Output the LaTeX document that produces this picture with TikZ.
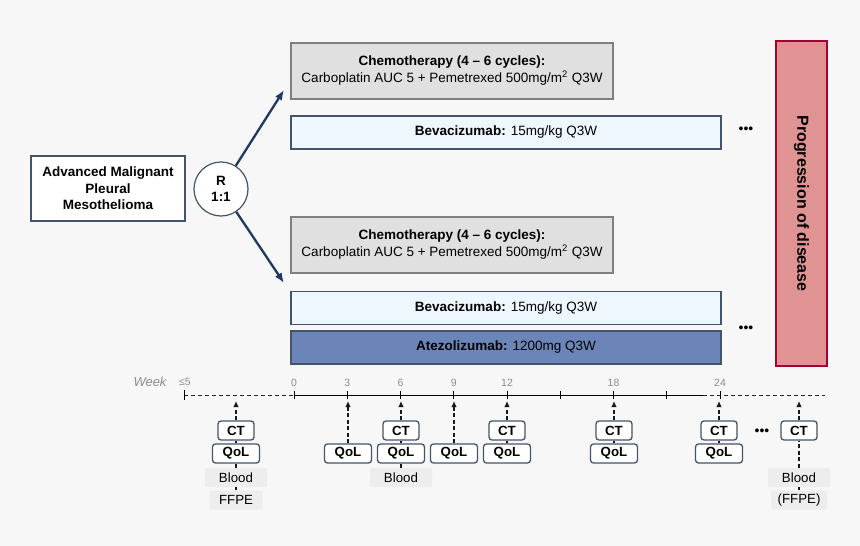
\documentclass[tikz,border=0pt]{standalone}
\usepackage{fontspec}
\usetikzlibrary{arrows.meta}
\setmainfont{Liberation Sans}
\definecolor{bgfill}{HTML}{F7F7F7}
\definecolor{navyline}{HTML}{44546A}
\definecolor{arrowblue}{HTML}{1F3864}
\definecolor{chemofill}{HTML}{E0E0E0}
\definecolor{chemoline}{HTML}{7F7F7F}
\definecolor{bevfill}{HTML}{EEF7FD}
\definecolor{atezofill}{HTML}{6B85B8}
\definecolor{progfill}{HTML}{E09393}
\definecolor{progline}{HTML}{A50034}
\definecolor{samplefill}{HTML}{EDEDED}
\definecolor{weekgrey}{HTML}{8C8C8C}

\begin{document}
\begin{tikzpicture}[x=1pt,y=-1pt,
  armtext/.style={font=\fontsize{13.5}{17}\selectfont,align=center,inner sep=0pt},
  chemobox/.style={armtext,draw=chemoline,fill=chemofill,line width=1.2pt,minimum width=322,minimum height=56},
  bevbox/.style={armtext,draw=navyline,fill=bevfill,line width=1.2pt,minimum width=430,minimum height=33},
  atezobox/.style={bevbox,fill=atezofill},
  popbox/.style={armtext,draw=navyline,fill=white,line width=1.2pt,minimum width=154,minimum height=65,font=\bfseries\fontsize{13.5}{16.5}\selectfont},
  randnode/.style={circle,draw=navyline,fill=white,line width=1.2pt,minimum size=54,align=center,inner sep=0pt,font=\bfseries\fontsize{13.5}{16}\selectfont},
  progbox/.style={draw=progline,fill=progfill,line width=2.2pt,minimum width=51,minimum height=325},
  assess/.style={draw=navyline,fill=white,rounded corners=3pt,line width=1.3pt,minimum height=19,inner sep=0pt,font=\bfseries\fontsize{13.3}{15}\selectfont},
  sample/.style={fill=samplefill,rounded corners=2pt,minimum height=19,inner sep=0pt,font=\fontsize{13.3}{15}\selectfont},
  weeklabel/.style={text=weekgrey,inner sep=0pt,font=\fontsize{10.5}{12}\selectfont},
  dotsnode/.style={inner sep=0pt,font=\fontsize{14}{14}\selectfont},
  probe/.style={-{Latex[length=6pt,width=5.5pt]},dash pattern=on 4pt off 2.5pt,line width=1.4pt,black!90},
  link/.style={dash pattern=on 4pt off 2.5pt,line width=1.4pt,black!90},
  randarrow/.style={-{Latex[length=10pt,width=8pt]},line width=2.3pt,arrowblue}]
\fill[bgfill] (0,0) rectangle (860,546);
\useasboundingbox (0,0) rectangle (860,546);

% population and randomisation
\node[popbox] (pop) at (108,188.5) {Advanced Malignant\\Pleural\\Mesothelioma};
\node[randnode] (R) at (221,189) {R\\1:1};
\coordinate (armA) at (284,90);
\coordinate (armB) at (284,283);
\draw[randarrow] (R) -- (armA);
\draw[randarrow] (R) -- (armB);

% arm A
\node[chemobox] (chemoA) at (452,71) {\textbf{Chemotherapy (4 – 6 cycles):}\\Carboplatin AUC 5 + Pemetrexed 500mg/m\textsuperscript{2} Q3W};
\node[bevbox] (bevA) at (506,132.5) {\textbf{Bevacizumab:} 15mg/kg Q3W};
\node[dotsnode] (dotsA) at (746,130) {•••};

% arm B
\node[chemobox] (chemoB) at (452,245) {\textbf{Chemotherapy (4 – 6 cycles):}\\Carboplatin AUC 5 + Pemetrexed 500mg/m\textsuperscript{2} Q3W};
\node[bevbox] (bevB) at (506,308) {\textbf{Bevacizumab:} 15mg/kg Q3W};
\node[atezobox] (atezoB) at (506,347.5) {\textbf{Atezolizumab:} 1200mg Q3W};
\node[dotsnode] (dotsB) at (746,329) {•••};

\node[progbox] (prog) at (801.5,203.5) {};
\node[rotate=-90,font=\bfseries\fontsize{16}{18}\selectfont] (progtext) at (prog.center) {Progression of disease};

% timeline
\node[weeklabel,font=\itshape\fontsize{13}{14}\selectfont] (week) at (150,381.5) {Week};
\node[weeklabel] (screen) at (185,382) {≤5};
\coordinate (tlstart) at (184,395);
\coordinate (t0) at (294,395);
\coordinate (tsolid) at (703,395);
\coordinate (tlend) at (825,395);
\draw[black!85,dash pattern=on 4pt off 3pt,line width=0.9pt] (tlstart) -- (t0);
\draw[black,line width=0.9pt] (t0) -- (tsolid);
\draw[black!85,dash pattern=on 4pt off 3pt,line width=0.9pt] (tsolid) -- (tlend);
\draw[black,line width=1pt] (184,390) -- (184,400);
\foreach \w in {0,3,...,24}
  \draw[black,line width=0.9pt] ({294+\w*17.75},391) -- ({294+\w*17.75},399);
\foreach \w in {0,3,6,9,12,18,24}
  \node[weeklabel] at ({294+\w*17.75},383) {\w};

% screening
\node[assess,minimum width=36] (ctS) at (236,430.5) {CT};
\node[assess,minimum width=47] (qolS) at (236,453.5) {QoL};
\node[sample,minimum width=62] (bloodS) at (236,477.5) {Blood};
\node[sample,minimum width=53] (ffpeS) at (236,500) {FFPE};
\coordinate (tipS) at (236,401);
\draw[probe] (ctS) -- (tipS);
\draw[link] (qolS) -- (ctS);
\draw[link] (bloodS) -- (qolS);
\draw[link] (ffpeS) -- (bloodS);

% QoL only
\foreach \n/\x in {3/348,9/454} {
  \node[assess,minimum width=47] (qol\n) at (\x,453.5) {QoL};
  \coordinate (tip\n) at (\x,401);
  \draw[probe] (qol\n) -- (tip\n);
}

% CT and QoL
\foreach \n/\x in {6/401,12/507,18/614,24/719} {
  \node[assess,minimum width=36] (ct\n) at (\x,430.5) {CT};
  \node[assess,minimum width=47] (qol\n) at (\x,453.5) {QoL};
  \coordinate (tip\n) at (\x,401);
  \draw[probe] (ct\n) -- (tip\n);
  \draw[link] (qol\n) -- (ct\n);
}
\node[sample,minimum width=62] (blood6) at (401,477.5) {Blood};
\draw[link] (blood6) -- (qol6);

% until progression
\node[dotsnode] (dotsT) at (762,432) {•••};
\node[assess,minimum width=36] (ctE) at (799,430.5) {CT};
\node[sample,minimum width=62] (bloodE) at (799,477.5) {Blood};
\node[sample,minimum width=56] (ffpeE) at (799,500) {(FFPE)};
\coordinate (tipE) at (799,401);
\draw[probe] (ctE) -- (tipE);
\draw[link] (bloodE) -- (ctE);
\draw[link] (ffpeE) -- (bloodE);
\end{tikzpicture}
\end{document}
